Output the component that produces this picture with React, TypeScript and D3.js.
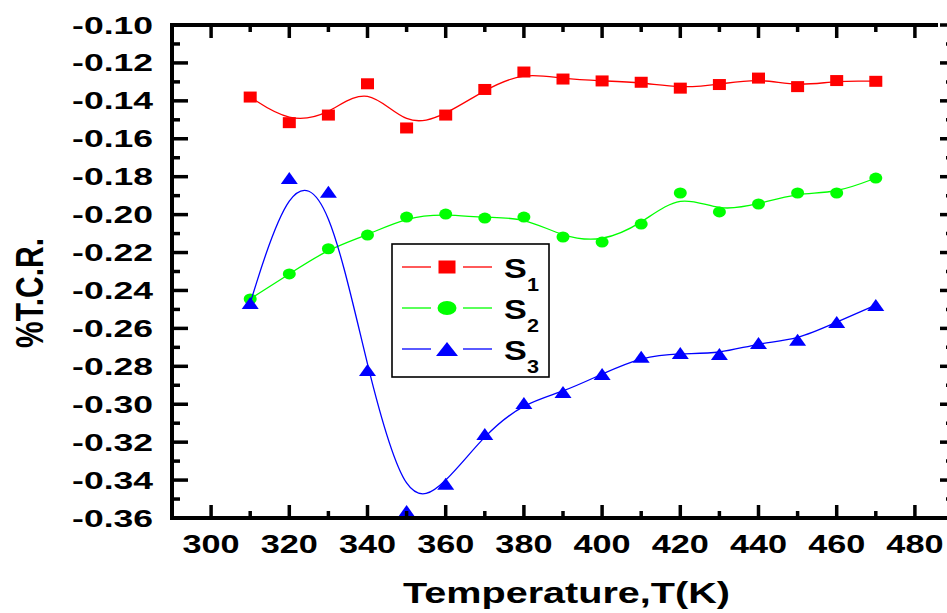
import React from 'react';
import * as d3 from 'd3';

const temps = [310, 320, 330, 340, 350, 360, 370, 380, 390, 400, 410, 420, 430, 440, 450, 460, 470];
const s1 = [-0.138, -0.1515, -0.1475, -0.131, -0.1543, -0.1475, -0.134, -0.1248, -0.1285, -0.1295, -0.1302, -0.1333, -0.1314, -0.128, -0.1325, -0.1293, -0.1297];
const s2 = [-0.2445, -0.2313, -0.218, -0.2108, -0.2013, -0.1997, -0.2018, -0.2013, -0.2118, -0.2145, -0.205, -0.1886, -0.1986, -0.1944, -0.1886, -0.1886, -0.1807];
const s3 = [-0.2466, -0.1807, -0.188, -0.282, -0.3563, -0.342, -0.3157, -0.2994, -0.2936, -0.284, -0.275, -0.273, -0.2735, -0.2677, -0.266, -0.2566, -0.2477];
const xMajor = [300, 320, 340, 360, 380, 400, 420, 440, 460, 480];
const xMinor = [290, 310, 330, 350, 370, 390, 410, 430, 450, 470, 490];
const yMajor = [-0.36, -0.34, -0.32, -0.30, -0.28, -0.26, -0.24, -0.22, -0.20, -0.18, -0.16, -0.14, -0.12, -0.10];
const yMinor = [-0.35, -0.33, -0.31, -0.29, -0.27, -0.25, -0.23, -0.21, -0.19, -0.17, -0.15, -0.13, -0.11];
const seriesLabels = ['1', '2', '3'];
const seriesColors = ['#ff0000', '#00ff00', '#0000ff'];
const seriesShapes = ['square', 'circle', 'triangle'];

const W = 947;
const H = 613;
const FONT = '"Liberation Sans", Arial, sans-serif';

function Marker({ shape, cx, cy, color, w, h }: { shape: string; cx: number; cy: number; color: string; w: number; h: number }) {
  if (shape === 'square') return <rect x={cx - w / 2} y={cy - h / 2} width={w} height={h} fill={color} />;
  if (shape === 'circle') return <ellipse cx={cx} cy={cy} rx={w / 2} ry={h / 2} fill={color} />;
  return <path d={`M${cx - w / 2},${cy + h / 2}L${cx + w / 2},${cy + h / 2}L${cx},${cy - h / 2}Z`} fill={color} />;
}

export default function App() {
  const x = d3.scaleLinear().domain([290, 490]).range([172, 954]);
  const y = d3.scaleLinear().domain([-0.36, -0.10]).range([518, 25]);
  const line = d3
    .line<number>()
    .x((_, i) => x(temps[i]))
    .y((d) => y(d))
    .curve(d3.curveBasis);
  const series = [s1, s2, s3];
  const markerSize = [
    [13, 11],
    [13, 11],
    [17, 12],
  ];
  const legendMarkerSize = [
    [17, 13],
    [19, 14],
    [22, 14],
  ];
  const left = x(290);
  const right = x(490);
  const top = y(-0.10);
  const bottom = y(-0.36);
  const legendRows = [267, 308, 349];

  return (
    <svg width={W} height={H} style={{ position: 'absolute', left: 0, top: 0, background: '#fff' }} fontFamily={FONT}>
      <rect x={0} y={0} width={W} height={H} fill="#fff" />
      {series.map((s, k) => (
        <g key={k}>
          <path d={line(s) || ''} fill="none" stroke={seriesColors[k]} strokeWidth={1.3} />
          {s.map((v, i) => (
            <Marker key={i} shape={seriesShapes[k]} cx={x(temps[i])} cy={y(v)} color={seriesColors[k]} w={markerSize[k][0]} h={markerSize[k][1]} />
          ))}
        </g>
      ))}

      {/* frame */}
      <g stroke="#000" strokeWidth={4} fill="none">
        <line x1={left} y1={top} x2={938} y2={top} />
        <line x1={left} y1={bottom} x2={right} y2={bottom} />
        <line x1={left} y1={top - 2} x2={left} y2={bottom + 2} />
        <line x1={right} y1={top} x2={right} y2={bottom} />
      </g>
      <g stroke="#000" strokeWidth={3.5}>
        {xMajor.map((t) => (
          <g key={'xM' + t}>
            <line x1={x(t)} x2={x(t)} y1={bottom} y2={bottom - 13} />
            <line x1={x(t)} x2={x(t)} y1={top} y2={top + 13} />
          </g>
        ))}
        {xMinor.map((t) => (
          <g key={'xm' + t}>
            <line x1={x(t)} x2={x(t)} y1={bottom} y2={bottom - 7} />
            <line x1={x(t)} x2={x(t)} y1={top} y2={top + 7} />
          </g>
        ))}
        {yMajor.map((t) => (
          <g key={'yM' + t}>
            <line x1={left} x2={left + 16} y1={y(t)} y2={y(t)} />
            <line x1={right} x2={right - 14} y1={y(t)} y2={y(t)} />
          </g>
        ))}
        {yMinor.map((t) => (
          <g key={'ym' + t}>
            <line x1={left} x2={left + 8} y1={y(t)} y2={y(t)} />
            <line x1={right} x2={right - 8} y1={y(t)} y2={y(t)} />
          </g>
        ))}
      </g>

      {/* tick labels */}
      <g fontWeight="bold" fontSize={24} fill="#000">
        {yMajor.map((t) => (
          <text key={'yl' + t} transform={`translate(153,${y(t) + 8.5}) scale(1.48,1)`} textAnchor="end">
            {d3.format('.2f')(t).replace('−', '-')}
          </text>
        ))}
        {xMajor.map((t) => (
          <text key={'xl' + t} fontSize={25} transform={`translate(${x(t)},553) scale(1.37,1)`} textAnchor="middle">
            {t}
          </text>
        ))}
      </g>

      {/* axis titles */}
      <text x={566.5} y={603} fontSize={30} fontWeight="bold" textAnchor="middle" textLength={327} lengthAdjust="spacingAndGlyphs">
        Temperature,T(K)
      </text>
      <text transform="translate(43,293) rotate(-90)" fontSize={38} fontWeight="bold" textAnchor="middle" textLength={110} lengthAdjust="spacingAndGlyphs">
        %T.C.R.
      </text>

      {/* legend */}
      <rect x={392} y={244} width={157} height={133} fill="#fff" stroke="#000" strokeWidth={1.6} />
      {legendRows.map((ry, k) => (
        <g key={'lg' + k}>
          <line x1={402} x2={431} y1={ry} y2={ry} stroke={seriesColors[k]} strokeWidth={1.3} />
          <line x1={463} x2={492} y1={ry} y2={ry} stroke={seriesColors[k]} strokeWidth={1.3} />
          <Marker shape={seriesShapes[k]} cx={447} cy={ry} color={seriesColors[k]} w={legendMarkerSize[k][0]} h={legendMarkerSize[k][1]} />
          <text transform={`translate(504,${ry + 10.5}) scale(1.22,1)`} fontSize={28} fontWeight="bold">
            S
          </text>
          <text transform={`translate(527,${ry + 23.5}) scale(1.2,1)`} fontSize={18} fontWeight="bold">
            {seriesLabels[k]}
          </text>
        </g>
      ))}
    </svg>
  );
}
